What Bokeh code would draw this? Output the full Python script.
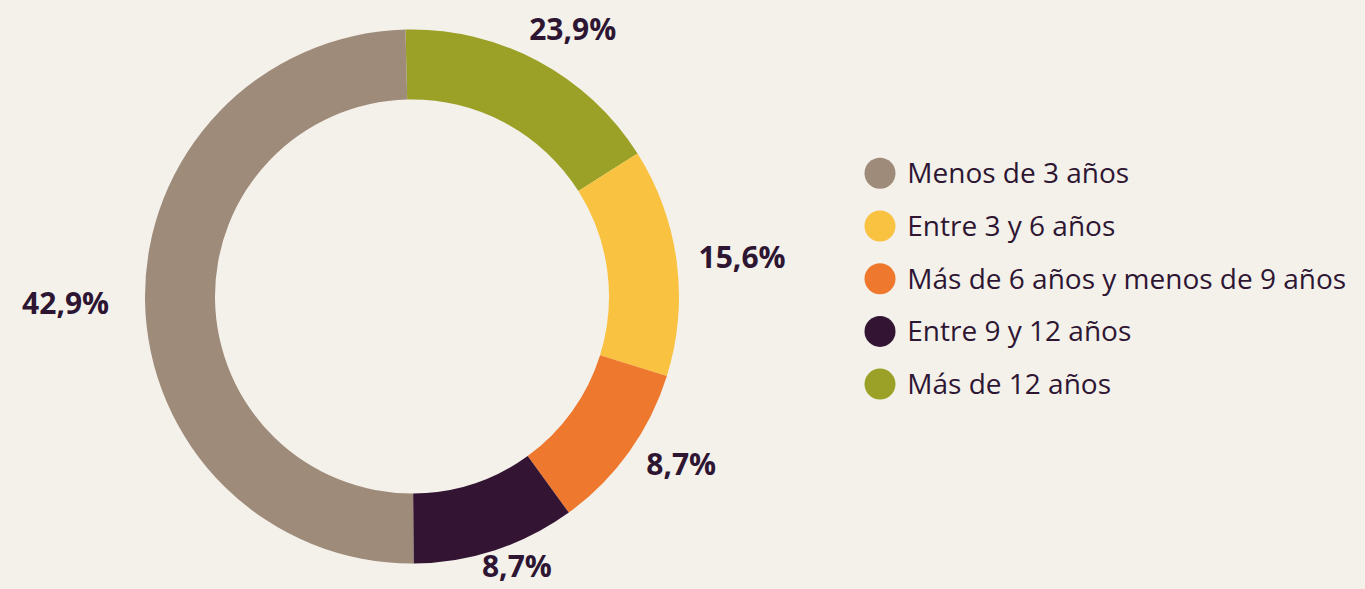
import math
from bokeh.plotting import figure
from bokeh.models import Range1d, ColumnDataSource
from bokeh.core.properties import value
from bokeh.embed import file_html
from bokeh.resources import INLINE

# ---------------- data ----------------
categories = ["Menos de 3 años", "Entre 3 y 6 años", "Más de 6 años y menos de 9 años",
              "Entre 9 y 12 años", "Más de 12 años"]
label_text = ["42,9%", "15,6%", "8,7%", "8,7%", "23,9%"]
# share of the ring each slice occupies as drawn in the picture (%)
ring_share = [49.7, 13.8, 10.2, 9.9, 16.4]
# clockwise order of slices starting at the top
ring_order = [4, 1, 2, 3, 0]
colors = ["#9e8b7a", "#f9c241", "#ed782e", "#331433", "#9ba126"]

# ---------------- layout ----------------
W, H = 1365, 589
BG = "#f4f1eb"
TXT = "#2e1633"
FONT = "Open Sans"
CX, CY = 411.5, 589 - 296.0
R_OUT, R_IN = 267.0, 197.0
START_CW = -1.4  # degrees clockwise from 12 o'clock
label_angle_shift = [-0.4, 1.0, -3.5, -3.0, 3.0]  # degrees, per label
label_radial_shift = [14, 0, 0, -10, 0]            # px, per label

p = figure(width=W, height=H, x_range=Range1d(0, W), y_range=Range1d(0, H),
           output_backend="svg", toolbar_location=None, min_border=0)
p.axis.visible = False
p.grid.visible = False
p.outline_line_color = None
p.background_fill_color = BG
p.border_fill_color = BG

total = sum(ring_share)
starts, ends, cols, mids = [], [], [], {}
acc = START_CW
for i in ring_order:
    span = ring_share[i] / total * 360.0
    a0, a1 = acc, acc + span
    starts.append(math.radians(90 - a0))
    ends.append(math.radians(90 - a1))
    cols.append(colors[i])
    mids[i] = (a0 + a1) / 2
    acc = a1

src = ColumnDataSource(dict(x=[CX] * len(starts), y=[CY] * len(starts),
                            s=starts, e=ends, c=cols))
p.annular_wedge(x="x", y="y", inner_radius=R_IN, outer_radius=R_OUT,
                start_angle="s", end_angle="e", direction="clock",
                fill_color="c", line_color=None, source=src)

# value labels around the ring
lx, ly, lt = [], [], []
for i, t in enumerate(label_text):
    a = math.radians(mids[i] + label_angle_shift[i])
    w = sum(8 if ch == "," else 27 if ch == "%" else 18 for ch in t)
    r = 288 + 0.5 * w * abs(math.sin(a)) + label_radial_shift[i]
    lx.append(CX + r * math.sin(a))
    ly.append(CY + r * math.cos(a) + 2.0)
    lt.append(t)
p.text(x=lx, y=ly, text=lt, text_align="center", text_baseline="alphabetic",
       text_font=value(FONT), text_font_style="bold", text_font_size="30px",
       text_color=TXT)

# legend
LX, LY0, STEP = 879.5, 589 - 172.8, 52.7
gy = [LY0 - k * STEP for k in range(len(categories))]
p.scatter(x=[LX] * len(categories), y=gy, size=31, marker="circle",
          fill_color=colors, line_color=None)
p.text(x=[LX + 27.3] * len(categories), y=[g + 1.0 for g in gy], text=categories,
       text_align="left", text_baseline="alphabetic",
       text_font=value(FONT), text_font_size="28px", text_color=TXT)

html = file_html(p, INLINE)
html = html.replace("</head>", "<style>html,body{background:%s;}</style></head>" % BG, 1)
open("out.html", "w").write(html)
